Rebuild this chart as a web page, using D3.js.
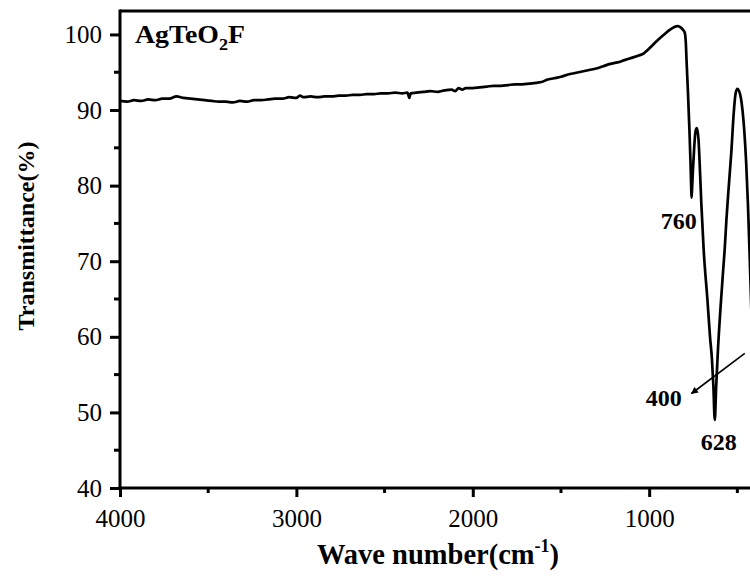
<!DOCTYPE html>
<html>
<head>
<meta charset="utf-8">
<script src="https://cdn.jsdelivr.net/npm/d3@7"></script>
<style>
  html, body { margin: 0; padding: 0; background: #ffffff; }
  svg { display: block; }
  text { font-family: "Liberation Serif", "Times New Roman", serif; fill: #000; }
</style>
</head>
<body>
<div id="chart"></div>
<script>
// FT-IR spectrum of AgTeO2F: [wavenumber (cm-1), transmittance (%)]
const baselineRegion = [
  [4000, 91.2], [3960, 91.1], [3920, 91.3], [3880, 91.2], [3840, 91.4], [3800, 91.3],
  [3760, 91.5], [3720, 91.5], [3680, 91.8], [3640, 91.6], [3600, 91.5], [3560, 91.4],
  [3520, 91.3], [3480, 91.2], [3440, 91.1], [3400, 91.1], [3360, 91.0], [3320, 91.2],
  [3280, 91.1], [3240, 91.3], [3200, 91.3], [3160, 91.4], [3120, 91.5], [3080, 91.5],
  [3040, 91.7], [3000, 91.6], [2980, 91.9], [2960, 91.7], [2920, 91.8], [2880, 91.7],
  [2840, 91.8], [2800, 91.8], [2760, 91.9], [2720, 91.9], [2680, 92.0], [2640, 92.0],
  [2600, 92.1], [2560, 92.1], [2520, 92.2], [2480, 92.2], [2440, 92.3], [2400, 92.2],
  [2370, 92.3], [2360, 91.6], [2352, 92.2], [2320, 92.3], [2280, 92.4], [2240, 92.5],
  [2200, 92.4], [2160, 92.6], [2120, 92.7], [2100, 92.5], [2080, 92.9], [2060, 92.7],
  [2040, 92.9], [2000, 92.9], [1960, 93.0], [1920, 93.1], [1880, 93.2], [1840, 93.2],
  [1800, 93.3], [1760, 93.4], [1720, 93.4], [1680, 93.5], [1640, 93.6], [1610, 93.7],
  [1580, 94.0], [1540, 94.2], [1500, 94.4], [1460, 94.7], [1420, 94.9], [1380, 95.1],
  [1340, 95.3], [1300, 95.5], [1260, 95.8], [1220, 96.1], [1180, 96.3], [1140, 96.6],
  [1100, 96.9], [1060, 97.2], [1030, 97.5], [1015, 97.8]
];

const bandRegion = [
  [980, 98.6], [940, 99.5], [910, 100.1], [883, 100.6], [860, 100.95], [838, 101.1],
  [820, 100.9], [808, 100.6], [798, 100.2], [792, 98.8], [788, 96.5], [780, 92.3],
  [772, 87.5], [766, 83.4], [762, 80.0], [760, 78.4], [757, 79.5], [752, 82.0],
  [746, 84.5], [740, 86.6], [735, 87.4], [729, 87.6], [720, 86.0], [712, 82.0],
  [704, 77.5], [691, 71.5], [670, 65.0], [655, 60.0], [644, 57.0], [636, 53.5],
  [628, 49.0], [620, 53.5], [610, 58.3], [595, 64.0], [580, 69.0], [572, 71.5],
  [562, 75.5], [550, 79.5], [534, 84.5], [521, 89.5], [510, 92.2], [500, 92.8],
  [490, 92.5], [480, 91.6], [470, 89.8], [460, 87.0], [450, 83.0], [440, 77.5],
  [430, 70.5], [420, 63.0], [410, 56.0], [400, 50.0]
];

const xMajorTicks = [4000, 3000, 2000, 1000];
const xMinorTicks = [3500, 2500, 1500, 500];
const yMajorTicks = [40, 50, 60, 70, 80, 90, 100];
const yMinorTicks = [45, 55, 65, 75, 85, 95];

// Peak labels and the arrow pointing to the 400 cm-1 limit (data units)
const peakLabels = [
  { text: "760", w: 832, t: 74.2 },
  { text: "628", w: 606, t: 45.0 },
  { text: "400", w: 917, t: 50.9 }
];
const arrowNote = { from: [458, 57.8], to: [760, 52.5] };

const width = 750, height = 576;
const plotLeft = 120, plotRight = 755, plotTop = 11, plotBottom = 488;

const x = d3.scaleLinear().domain([4000, 400]).range([plotLeft, plotRight]);
const y = d3.scaleLinear().domain([40, 103.1]).range([plotBottom, plotTop]);

const svg = d3.select("#chart").append("svg")
  .attr("width", width).attr("height", height)
  .attr("viewBox", `0 0 ${width} ${height}`);

svg.append("rect").attr("width", width).attr("height", height).attr("fill", "#ffffff");

const defs = svg.append("defs");
defs.append("clipPath").attr("id", "plot-clip")
  .append("rect").attr("x", plotLeft).attr("y", plotTop)
  .attr("width", plotRight - plotLeft).attr("height", plotBottom - plotTop);
defs.append("marker").attr("id", "arrow-head")
  .attr("viewBox", "0 0 10 10").attr("refX", 9).attr("refY", 5)
  .attr("markerWidth", 9).attr("markerHeight", 7)
  .attr("markerUnits", "userSpaceOnUse")
  .attr("orient", "auto")
  .append("path").attr("d", "M0,0 L10,5 L0,10 Z").attr("fill", "#000");

// Spectrum trace
const spectrum = baselineRegion.concat(bandRegion);
const line = d3.line()
  .x(d => x(d[0]))
  .y(d => y(d[1]))
  .curve(d3.curveMonotoneX);

svg.append("path")
  .datum(spectrum)
  .attr("clip-path", "url(#plot-clip)")
  .attr("fill", "none")
  .attr("stroke", "#000")
  .attr("stroke-width", 2.7)
  .attr("stroke-linejoin", "round")
  .attr("d", line);

// Frame: top and right edges
svg.append("line").attr("x1", plotLeft).attr("x2", plotRight).attr("y1", plotTop).attr("y2", plotTop)
  .attr("stroke", "#000").attr("stroke-width", 3);
svg.append("line").attr("x1", plotRight).attr("x2", plotRight).attr("y1", plotTop).attr("y2", plotBottom)
  .attr("stroke", "#000").attr("stroke-width", 3);

// Bottom axis
const xAxis = svg.append("g").attr("transform", `translate(0,${plotBottom})`);
xAxis.call(d3.axisBottom(x).tickValues(xMajorTicks).tickSize(9).tickPadding(12).tickFormat(d3.format("d")));
xAxis.call(g => g.select(".domain").attr("stroke-width", 3).attr("d", `M${plotLeft - 1.5},0H${plotRight}`));
xAxis.selectAll(".tick line").attr("stroke-width", 3);
xAxis.selectAll(".tick text").attr("font-size", 25);
xAxis.selectAll(".minor").data(xMinorTicks).enter().append("line")
  .attr("class", "minor")
  .attr("x1", d => x(d)).attr("x2", d => x(d))
  .attr("y1", 0).attr("y2", 5)
  .attr("stroke", "#000").attr("stroke-width", 3);

// Left axis
const yAxis = svg.append("g").attr("transform", `translate(${plotLeft},0)`);
yAxis.call(d3.axisLeft(y).tickValues(yMajorTicks).tickSize(10).tickPadding(8));
yAxis.call(g => g.select(".domain").attr("stroke-width", 3).attr("d", `M0,${plotBottom + 1.5}V${plotTop - 1.5}`));
yAxis.selectAll(".tick line").attr("stroke-width", 3);
yAxis.selectAll(".tick text").attr("font-size", 25);
yAxis.selectAll(".minor").data(yMinorTicks).enter().append("line")
  .attr("class", "minor")
  .attr("x1", -6).attr("x2", 0)
  .attr("y1", d => y(d)).attr("y2", d => y(d))
  .attr("stroke", "#000").attr("stroke-width", 3);

// Axis titles
const xTitle = svg.append("text")
  .attr("x", 438).attr("y", 564)
  .attr("text-anchor", "middle")
  .attr("font-size", 28.5).attr("font-weight", "bold");
xTitle.append("tspan").text("Wave number(cm");
xTitle.append("tspan").attr("font-size", 18).attr("dy", -12).text("-1");
xTitle.append("tspan").attr("dy", 12).text(")");

svg.append("text")
  .attr("transform", `translate(34,236) rotate(-90)`)
  .attr("text-anchor", "middle")
  .attr("font-size", 24).attr("font-weight", "bold")
  .text("Transmittance(%)");

// Compound name
const name = svg.append("text")
  .attr("transform", "translate(135,43) scale(1.07,1)")
  .attr("font-size", 26).attr("font-weight", "bold");
name.append("tspan").text("AgTeO");
name.append("tspan").attr("font-size", 17).attr("dy", 7).text("2");
name.append("tspan").attr("dy", -7).text("F");

// Peak labels
svg.selectAll(".peak-label").data(peakLabels).enter().append("text")
  .attr("class", "peak-label")
  .attr("x", d => x(d.w)).attr("y", d => y(d.t))
  .attr("text-anchor", "middle")
  .attr("font-size", 24).attr("font-weight", "bold")
  .text(d => d.text);

// Arrow
svg.append("line")
  .attr("x1", x(arrowNote.from[0])).attr("y1", y(arrowNote.from[1]))
  .attr("x2", x(arrowNote.to[0])).attr("y2", y(arrowNote.to[1]))
  .attr("stroke", "#000").attr("stroke-width", 1.6)
  .attr("marker-end", "url(#arrow-head)");
</script>
</body>
</html>
